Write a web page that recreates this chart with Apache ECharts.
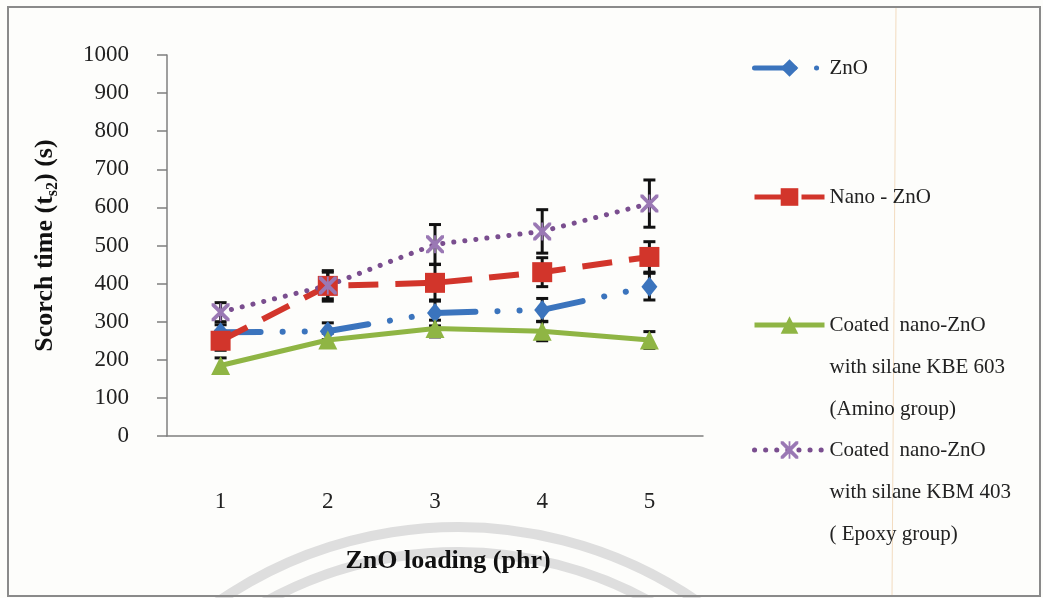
<!DOCTYPE html>
<html>
<head>
<meta charset="utf-8">
<script src="https://cdn.jsdelivr.net/npm/echarts@6/dist/echarts.min.js"></script>
<style>
  html, body { margin: 0; padding: 0; background: #fdfdfb; }
  #chart { width: 1043px; height: 598px; }
</style>
</head>
<body>
<div id="chart"></div>
<script>
// ZnO loading (phr)
const loading = ['1', '2', '3', '4', '5'];
// scorch time ts2 (s) and error (+/-)
const zno = [272, 275, 323, 331, 392];
const znoErr = [20, 22, 34, 30, 35];
const nanoZno = [250, 394, 402, 430, 470];
const nanoZnoErr = [25, 40, 48, 38, 40];
const kbe603 = [185, 252, 282, 275, 252];
const kbe603Err = [20, 18, 22, 25, 22];
const kbm403 = [325, 395, 503, 537, 610];
const kbm403Err = [25, 35, 52, 57, 62];
const yTicks = [0, 1000, 100];

const names = ['ZnO', 'Nano - ZnO', 'Coated  nano-ZnO\nwith silane KBE 603\n(Amino group)', 'Coated  nano-ZnO\nwith silane KBM 403\n( Epoxy group)'];
const serif = '"Liberation Serif", "Times New Roman", serif';

function errData(vals, errs) {
  return vals.map((v, i) => [i, v - errs[i], v + errs[i]]);
}

function errSeries(vals, errs) {
  return {
    type: 'custom',
    z: 1,
    silent: true,
    data: errData(vals, errs),
    renderItem: function (params, api) {
      const lo = api.coord([api.value(0), api.value(1)]);
      const hi = api.coord([api.value(0), api.value(2)]);
      const w = 6;
      const st = { stroke: '#111', lineWidth: 3 };
      return {
        type: 'group',
        children: [
          { type: 'line', shape: { x1: lo[0], y1: lo[1], x2: hi[0], y2: hi[1] }, style: st },
          { type: 'line', shape: { x1: lo[0] - w, y1: lo[1], x2: lo[0] + w, y2: lo[1] }, style: st },
          { type: 'line', shape: { x1: hi[0] - w, y1: hi[1], x2: hi[0] + w, y2: hi[1] }, style: st }
        ]
      };
    }
  };
}

const xMark = 'path://M0,0 L3,0 L10,7 L17,0 L20,0 L20,3 L13,10 L20,17 L20,20 L17,20 L10,13 L3,20 L0,20 L0,17 L7,10 L0,3 Z M9,0 L11,0 L11,20 L9,20 Z';

// symbol lines up with the first text line: pad multi-line names with empty lines above
function legendAt(name, top) {
  return {
    data: [name],
    left: 752,
    top: top,
    padding: 0,
    itemWidth: 70,
    itemHeight: 22,
    selectedMode: false,
    formatter: function (n) {
      return n.indexOf('\n') >= 0 ? '\n\n' + n : n;
    },
    textStyle: {
      fontFamily: serif,
      fontSize: 21,
      color: '#222',
      lineHeight: 42
    },
    lineStyle: { width: 5 }
  };
}

const myEChart = echarts.init(document.getElementById('chart'));
const option = {
  backgroundColor: '#fdfdfb',
  animation: false,
  textStyle: { fontFamily: serif },
  grid: { left: 167, right: 340, top: 55, bottom: 162 },
  legend: [
    legendAt(names[0], 47),
    legendAt(names[1], 176),
    legendAt(names[2], 220),
    legendAt(names[3], 345)
  ],
  xAxis: {
    type: 'category',
    data: loading,
    name: 'ZnO loading (phr)',
    nameLocation: 'middle',
    nameGap: 112,
    nameTextStyle: { fontFamily: serif, fontSize: 26, fontWeight: 'bold', color: '#111', padding: [0, 0, 0, 26] },
    axisLine: { lineStyle: { color: '#7f7f7f', width: 1.5 } },
    axisTick: { alignWithLabel: true, length: 8, lineStyle: { color: '#7f7f7f', width: 1.5 } },
    axisLabel: { margin: 54, fontFamily: serif, fontSize: 23, color: '#222' }
  },
  yAxis: {
    type: 'value',
    min: yTicks[0],
    max: yTicks[1],
    interval: yTicks[2],
    name: '{m|Scorch time (t}{s|s2}{m|) (s)}',
    nameLocation: 'middle',
    nameGap: 106,
    nameTextStyle: {
      rich: {
        m: { fontFamily: serif, fontSize: 26, fontWeight: 'bold', color: '#111', lineHeight: 32, verticalAlign: 'middle' },
        s: { fontFamily: serif, fontSize: 16, fontWeight: 'bold', color: '#111', lineHeight: 32, verticalAlign: 'bottom' }
      }
    },
    axisLine: { show: true, lineStyle: { color: '#7f7f7f', width: 1.5 } },
    axisTick: { show: true, length: 10, lineStyle: { color: '#7f7f7f', width: 1.5 } },
    axisLabel: {
      margin: 38, fontFamily: serif, fontSize: 23, color: '#222',
      formatter: function (v) { return String(v); }
    },
    splitLine: { show: false }
  },
  series: [
    errSeries(zno, znoErr),
    errSeries(nanoZno, nanoZnoErr),
    errSeries(kbe603, kbe603Err),
    errSeries(kbm403, kbm403Err),
    {
      name: names[0],
      type: 'line',
      z: 3,
      data: zno,
      symbol: 'diamond',
      symbolSize: [16, 20],
      itemStyle: { color: '#3b74bd' },
      lineStyle: { color: '#3b74bd', width: 6, cap: 'round', type: [40, 22, 0.1, 22, 0.1, 24] }
    },
    {
      name: names[1],
      type: 'line',
      z: 3,
      data: nanoZno,
      symbol: 'rect',
      symbolSize: 20,
      itemStyle: { color: '#d2352b' },
      lineStyle: { color: '#d2352b', width: 6, type: [30, 17] }
    },
    {
      name: names[2],
      type: 'line',
      z: 3,
      data: kbe603,
      symbol: 'triangle',
      symbolSize: 19,
      itemStyle: { color: '#8fb544' },
      lineStyle: { color: '#8fb544', width: 5 }
    },
    {
      name: names[3],
      type: 'line',
      z: 3,
      data: kbm403,
      symbol: xMark,
      symbolSize: 18,
      itemStyle: { color: '#9a78b4' },
      lineStyle: { color: '#7a4e8f', width: 5, cap: 'round', type: [0.1, 11] }
    }
  ],
  graphic: [
    {
      type: 'rect', z: -10, silent: true,
      shape: { x: 8, y: 7, width: 1032, height: 589 },
      style: { fill: null, stroke: '#8a8a8a', lineWidth: 2 }
    },
    {
      type: 'line', z: -10, silent: true,
      shape: { x1: 896, y1: 8, x2: 892, y2: 595 },
      style: { stroke: '#f3dcc0', lineWidth: 1 }
    },
    {
      type: 'arc', z: -11, silent: true,
      shape: { cx: 458, cy: 950, r: 423, startAngle: Math.PI * 1.2, endAngle: Math.PI * 1.8 },
      style: { fill: null, stroke: '#dedede', lineWidth: 10 }
    },
    {
      type: 'arc', z: -11, silent: true,
      shape: { cx: 458, cy: 950, r: 398, startAngle: Math.PI * 1.2, endAngle: Math.PI * 1.8 },
      style: { fill: null, stroke: '#dedede', lineWidth: 10 }
    }
  ]
};
myEChart.setOption(option);
window.addEventListener('resize', function () {
  myEChart.resize();
});
</script>
</body>
</html>
